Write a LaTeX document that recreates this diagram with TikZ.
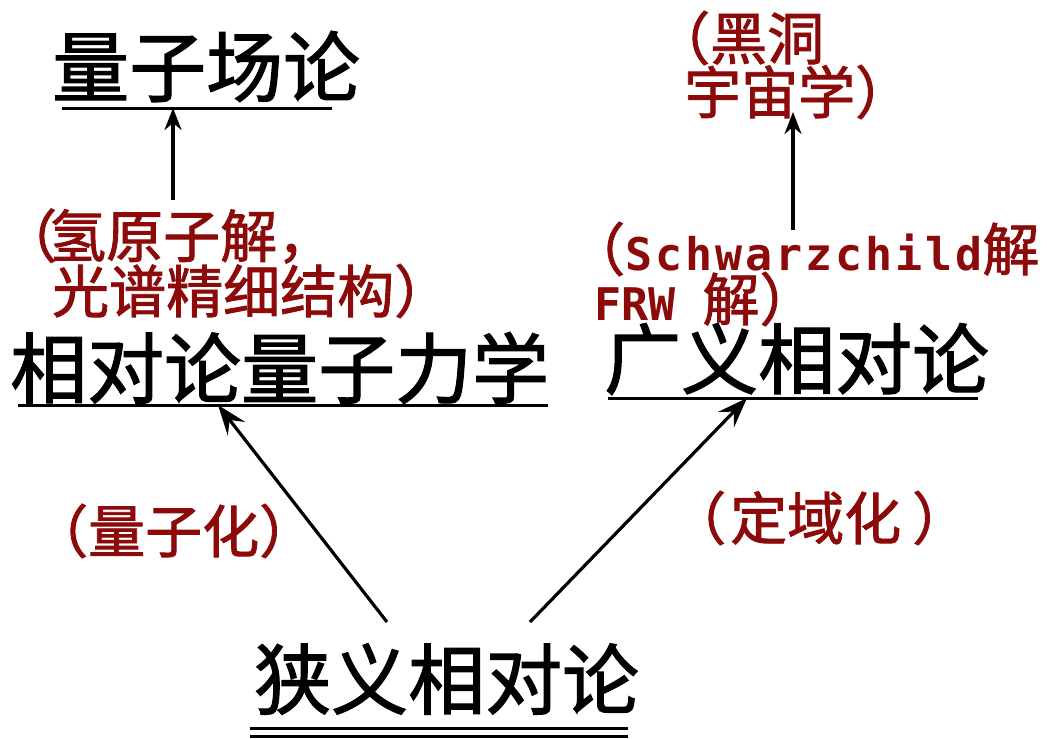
\documentclass[tikz,border=0pt]{standalone}
\usepackage{fontspec}
\usetikzlibrary{arrows.meta}
\newfontfamily\cjk{Noto Sans CJK SC}[FakeBold=1.5]
\newfontfamily\lmono{DejaVu Sans Mono Bold}
\newfontfamily\lmonow{DejaVu Sans Mono Bold}[LetterSpace=6.5]
\definecolor{redtxt}{RGB}{140,10,10}
\tikzset{
  main/.style={font=\cjk\fontsize{77}{80}\selectfont, inner sep=0pt, anchor=west},
  note/.style={font=\cjk\fontsize{57}{60}\selectfont, text=redtxt, inner sep=0pt, anchor=west},
  uline/.style={line width=3pt},
  conn/.style={line width=3.2pt, -{Stealth[length=30pt,width=22pt,inset=11pt]}},
  vconn/.style={line width=3.2pt, -{Stealth[length=22pt,width=17pt,inset=7pt]}},
}
\begin{document}
\begin{tikzpicture}[x=1pt,y=-1pt]
\useasboundingbox (0,0) rectangle (1047,739);
% main labels
\node[main] (qft) at (52,66.5) {量子场论};
\node[main] (rqm) at (10,368) {相对论量子力学};
\node[main] (gr)  at (604,359) {广义相对论};
\node[main] (sr)  at (254,679) {狭义相对论};
% notes
\node[note] (hyd1)  at (0,236) {（\kern-8pt 氢原子解，};
\node[note] (hyd2)  at (52,291) {光谱精细结构）};
\node[note] (quant) at (31,531) {（量子化）};
\node[note] (local) at (669,518) {（\kern4pt 定域化\kern11pt ）};
\node[note] (bh1)   at (653,38) {（黑洞};
\node[note] (bh2)   at (684,92) {宇宙学）};
\node[note] (sch1)  at (568,249) {（{\lmonow\fontsize{45}{50}\selectfont Schwarzchild}解};
\node[note] (sch2)  at (594,299) {{\lmono\fontsize{45}{50}\selectfont FRW }解）};
% underline coordinates
\coordinate (qftL) at (62,108);  \coordinate (qftR) at (332,108);
\coordinate (rqmL) at (18,405);  \coordinate (rqmR) at (548,405);
\coordinate (grL)  at (608,398); \coordinate (grR)  at (978,398);
\coordinate (srL1) at (250,728); \coordinate (srR1) at (628,728);
\coordinate (srL2) at (250,736); \coordinate (srR2) at (628,736);
\draw[uline] (qftL) -- (qftR);
\draw[uline] (rqmL) -- (rqmR);
\draw[uline] (grL) -- (grR);
\draw[uline] (srL1) -- (srR1);
\draw[uline] (srL2) -- (srR2);
% connector ends
\coordinate (qftIn)  at (173,108);
\coordinate (hydTop) at (173,200);
\coordinate (bhIn)   at (793,112);
\coordinate (schTop) at (793,230);
\coordinate (rqmIn)  at (218,405);
\coordinate (grIn)   at (747,398);
\coordinate (srOutL) at (387,622);
\coordinate (srOutR) at (530,622);
\draw[vconn] (hydTop) -- (qftIn);
\draw[vconn] (schTop) -- (bhIn);
\draw[conn] (srOutL) -- (rqmIn);
\draw[conn] (srOutR) -- (grIn);
\end{tikzpicture}
\end{document}
